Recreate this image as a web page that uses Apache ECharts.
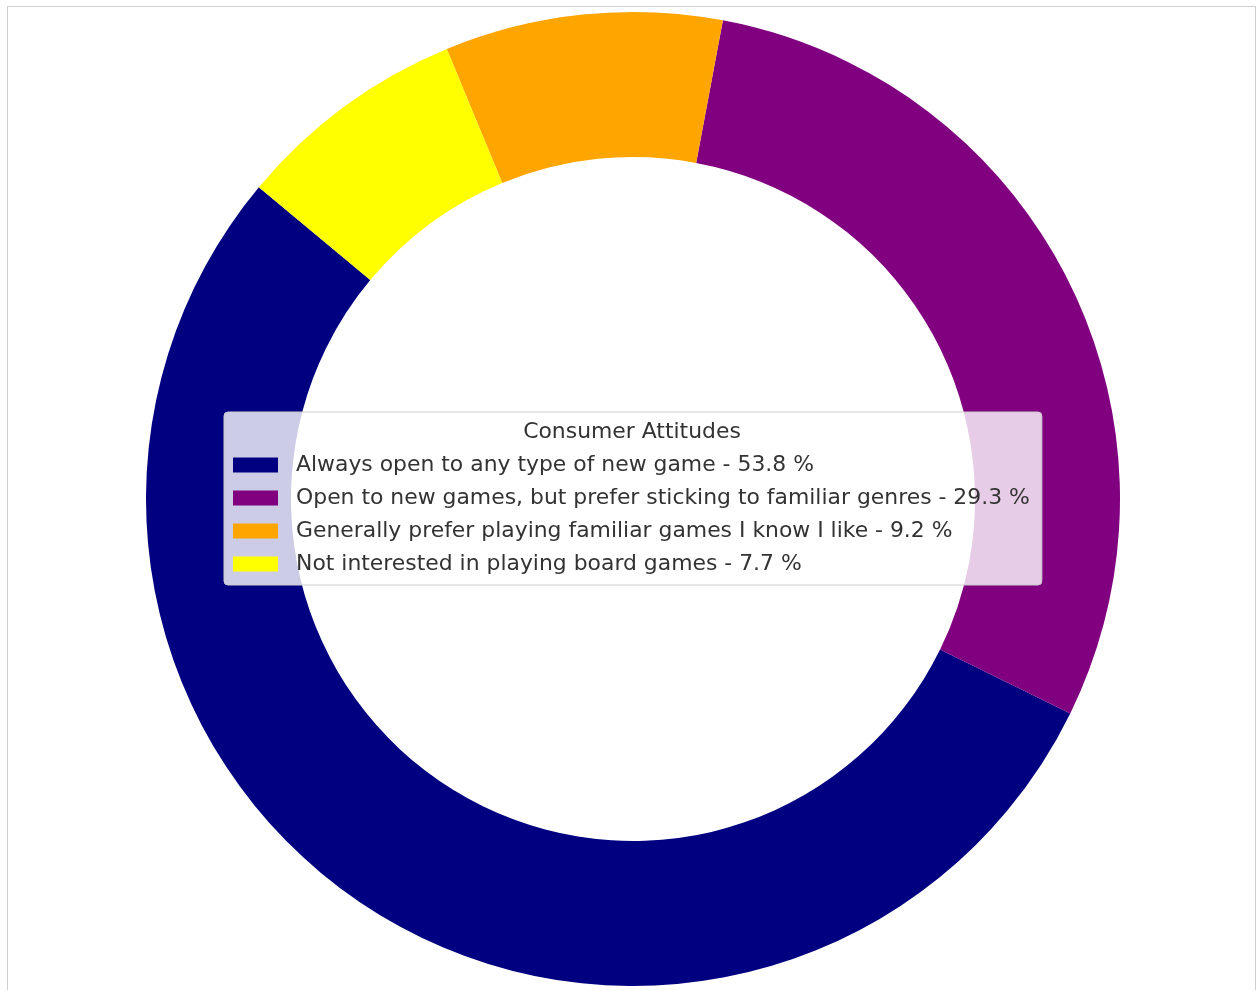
<!DOCTYPE html>
<html>
<head>
<meta charset="utf-8">
<script src="https://cdn.jsdelivr.net/npm/echarts@6/dist/echarts.min.js"></script>
<style>
  html, body { margin: 0; padding: 0; background: #fff; }
  #frame { position: absolute; left: 7px; top: 6px; width: 1249px; height: 1000px;
           border: 1px solid #cfcfcf; border-bottom: none; box-sizing: border-box; }
  #chart { position: absolute; left: 0; top: 0; width: 1257px; height: 990px; }
</style>
</head>
<body>
<div id="frame"></div>
<div id="chart"></div>
<script>
const legendTitle = "Consumer Attitudes";
const categories = [
  "Always open to any type of new game",
  "Open to new games, but prefer sticking to familiar genres",
  "Generally prefer playing familiar games I know I like",
  "Not interested in playing board games"
];
const values = [53.8, 29.3, 9.2, 7.7];
const colors = ["#000080", "#800080", "#FFA500", "#FFFF00"];

const chart = echarts.init(document.getElementById('chart'), null, { renderer: 'canvas' });
const FONT = "'DejaVu Sans', sans-serif";
chart.setOption({
  animation: false,
  backgroundColor: 'transparent',
  title: {
    text: legendTitle,
    left: 627,
    top: 415,
    textAlign: 'center',
    z: 20,
    textStyle: { fontFamily: FONT, fontSize: 21.9, fontWeight: 'normal', color: '#333', lineHeight: 24 }
  },
  legend: {
    orient: 'vertical',
    left: 224,
    top: 412,
    padding: [41, 12, 9, 9],
    itemWidth: 45,
    itemHeight: 15,
    itemGap: 9,
    icon: 'rect',
    backgroundColor: 'rgba(255,255,255,0.8)',
    borderColor: '#cccccc',
    borderWidth: 1,
    borderRadius: 4,
    selectedMode: false,
    z: 10,
    formatter: function (name) {
      const i = categories.indexOf(name);
      return name + ' - ' + values[i].toFixed(1) + ' %';
    },
    textStyle: { fontFamily: FONT, fontSize: 21.9, color: '#333', lineHeight: 24, padding: [0, 0, 0, 13] },
    data: categories
  },
  series: [{
    type: 'pie',
    center: [633, 499],
    radius: [342, 487],
    startAngle: 140.2,
    clockwise: false,
    label: { show: false },
    labelLine: { show: false },
    emphasis: { disabled: true },
    silent: true,
    itemStyle: { borderWidth: 0 },
    data: categories.map((c, i) => ({ name: c, value: values[i], itemStyle: { color: colors[i] } }))
  }]
});
</script>
</body>
</html>
